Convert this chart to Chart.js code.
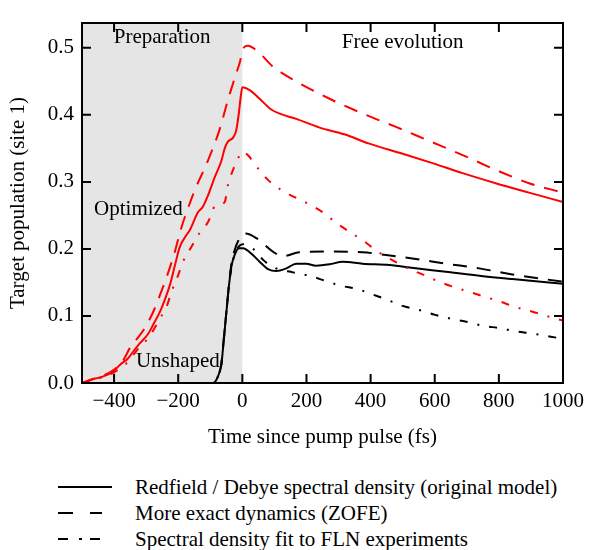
<!DOCTYPE html>
<html>
<head>
<meta charset="utf-8">
<script src="https://cdn.jsdelivr.net/npm/chart.js@4.4.1/dist/chart.umd.min.js"></script>
<style>
  body { margin: 0; background: #fff; }
  #wrap { position: relative; width: 590px; height: 550px; font-family: "Liberation Serif", "Times New Roman", serif; }
  #legend { position: absolute; left: 0; top: 474px; width: 590px; }
  .item { position: absolute; left: 0; height: 26px; width: 590px; }
  .item svg { position: absolute; left: 56px; top: 0; }
  .item span { position: absolute; left: 135px; top: 0; font-size: 21px; line-height: 26px; color: #000; white-space: nowrap; }
</style>
</head>
<body>
<div id="wrap">
  <canvas id="chart" width="590" height="460"></canvas>
  <div id="legend"></div>
</div>
<script>
// axis ticks
const xTicks = [-400, -200, 0, 200, 400, 600, 800, 1000];
const yTicks = [0, 0.1, 0.2, 0.3, 0.4, 0.5];

// shaded preparation window (fs)
const shadeFrom = -500;
const shadeTo = 0;

// Redfield / Debye, optimized pulse (red solid)
const redSolidT = [-500, -465, -439, -403, -382, -356, -340, -320, -294, -278, -257, -242, -226, -211, -195, -174, -164, -138, -123, -107, -86, -65, -55, -45, -29, -19, -11, -5, 0, 23, 54, 90, 121, 168, 241, 318, 396, 500, 593, 687, 790, 894, 1000];
const redSolidV = [0, 0.006, 0.009, 0.017, 0.027, 0.037, 0.047, 0.059, 0.073, 0.087, 0.106, 0.124, 0.146, 0.174, 0.203, 0.221, 0.228, 0.255, 0.263, 0.28, 0.307, 0.332, 0.35, 0.36, 0.366, 0.377, 0.402, 0.427, 0.441, 0.437, 0.424, 0.408, 0.401, 0.394, 0.381, 0.371, 0.357, 0.342, 0.328, 0.313, 0.298, 0.284, 0.27];

// ZOFE, optimized pulse (red dashed)
const redDashT = [-500, -465, -439, -403, -370, -351, -330, -299, -268, -257, -236, -211, -190, -170, -148, -107, -71, -45, -19, -8, 0, 8, 17, 49, 95, 132, 178, 272, 375, 479, 583, 687, 790, 894, 1000];
const redDashV = [0, 0.006, 0.01, 0.019, 0.035, 0.052, 0.065, 0.086, 0.117, 0.131, 0.158, 0.195, 0.232, 0.26, 0.288, 0.332, 0.378, 0.422, 0.462, 0.478, 0.495, 0.502, 0.503, 0.494, 0.472, 0.46, 0.447, 0.424, 0.402, 0.382, 0.361, 0.34, 0.318, 0.298, 0.284];

// FLN fit, optimized pulse (red dash-dot)
const redDotT = [-500, -440, -400, -360, -330, -289, -257, -236, -221, -200, -185, -159, -133, -107, -86, -55, -45, -29, -8, 0, 17, 44, 80, 121, 168, 215, 256, 292, 339, 381, 422, 469, 516, 562, 609, 655, 707, 754, 801, 853, 900, 956, 1000];
const redDotV = [0, 0.008, 0.016, 0.03, 0.048, 0.07, 0.096, 0.114, 0.136, 0.161, 0.181, 0.203, 0.224, 0.24, 0.263, 0.27, 0.295, 0.318, 0.34, 0.345, 0.34, 0.323, 0.303, 0.288, 0.276, 0.265, 0.253, 0.239, 0.224, 0.211, 0.196, 0.183, 0.171, 0.162, 0.152, 0.144, 0.136, 0.129, 0.122, 0.113, 0.107, 0.099, 0.093];

// Redfield / Debye, unshaped pulse (black solid)
const blkSolidT = [-500, -91, -76, -65, -58, -50, -42, -34, -24, -11, 2, 28, 54, 80, 106, 137, 168, 199, 230, 272, 313, 375, 458, 541, 635, 739, 842, 1000];
const blkSolidV = [0, 0, 0.01, 0.029, 0.064, 0.104, 0.144, 0.174, 0.191, 0.201, 0.201, 0.193, 0.181, 0.17, 0.167, 0.171, 0.178, 0.178, 0.175, 0.177, 0.181, 0.178, 0.176, 0.171, 0.166, 0.16, 0.155, 0.148];

// ZOFE, unshaped pulse (black dashed)
const blkDashT = [-500, -91, -76, -65, -58, -50, -42, -34, -24, -12, 0, 10, 44, 95, 126, 178, 272, 375, 448, 541, 635, 739, 842, 1000];
const blkDashV = [0, 0, 0.01, 0.03, 0.065, 0.105, 0.145, 0.178, 0.198, 0.213, 0.221, 0.223, 0.216, 0.196, 0.189, 0.195, 0.196, 0.195, 0.191, 0.185, 0.178, 0.171, 0.162, 0.151];

// FLN fit, unshaped pulse (black dash-dot)
const blkDotT = [-500, -91, -76, -65, -58, -50, -42, -34, -21, -8, 2, 23, 44, 64, 100, 158, 209, 261, 308, 360, 406, 453, 500, 552, 599, 650, 702, 754, 801, 853, 900, 962, 1000];
const blkDotV = [0, 0, 0.01, 0.029, 0.064, 0.104, 0.144, 0.172, 0.196, 0.205, 0.207, 0.203, 0.196, 0.184, 0.172, 0.165, 0.16, 0.152, 0.145, 0.14, 0.132, 0.124, 0.115, 0.109, 0.102, 0.096, 0.091, 0.085, 0.082, 0.077, 0.074, 0.069, 0.066];

const legendLabels = [
  'Redfield / Debye spectral density (original model)',
  'More exact dynamics (ZOFE)',
  'Spectral density fit to FLN experiments'
];

const SERIF = '"Liberation Serif", "Times New Roman", serif';
const FONT_SIZE = 21;
const DASH = [14, 10];
const DASHDOT = [8, 10, 2, 10];

function pts(ts, vs) {
  return ts.map((t, i) => ({ x: t, y: vs[i] }));
}

function line(ts, vs, color, dash) {
  return {
    data: pts(ts, vs),
    borderColor: color,
    borderWidth: 2,
    borderDash: dash,
    pointRadius: 0,
    fill: false,
    cubicInterpolationMode: 'monotone'
  };
}

// shading, text notes, inward ticks and the frame
const decor = {
  id: 'decor',
  beforeDatasetsDraw(chart) {
    const { ctx, chartArea: a, scales: { x } } = chart;
    const x0 = x.getPixelForValue(shadeFrom);
    const x1 = x.getPixelForValue(shadeTo);
    ctx.save();
    ctx.fillStyle = '#e5e5e5';
    ctx.fillRect(x0, a.top, x1 - x0, a.bottom - a.top);
    ctx.restore();
  },
  afterDatasetsDraw(chart) {
    const { ctx, chartArea: a, scales: { x, y } } = chart;
    ctx.save();
    ctx.fillStyle = '#000';
    ctx.font = FONT_SIZE + 'px ' + SERIF;
    ctx.textAlign = 'center';
    ctx.textBaseline = 'alphabetic';
    ctx.fillText('Preparation', x.getPixelForValue(-250), y.getPixelForValue(0.507));
    ctx.fillText('Free evolution', x.getPixelForValue(500), y.getPixelForValue(0.499));
    ctx.fillText('Optimized', x.getPixelForValue(-324), y.getPixelForValue(0.25));
    ctx.fillText('Unshaped', x.getPixelForValue(-201), y.getPixelForValue(0.024));

    ctx.strokeStyle = '#000';
    ctx.lineWidth = 2;
    ctx.beginPath();
    xTicks.forEach(v => {
      const px = x.getPixelForValue(v);
      ctx.moveTo(px, a.bottom); ctx.lineTo(px, a.bottom - 9);
      ctx.moveTo(px, a.top); ctx.lineTo(px, a.top + 9);
    });
    yTicks.forEach(v => {
      const py = y.getPixelForValue(v);
      ctx.moveTo(a.left, py); ctx.lineTo(a.left + 9, py);
      ctx.moveTo(a.right, py); ctx.lineTo(a.right - 9, py);
    });
    ctx.stroke();
    ctx.strokeRect(a.left, a.top, a.right - a.left, a.bottom - a.top);
    ctx.restore();
  }
};

new Chart(document.getElementById('chart'), {
  type: 'line',
  data: {
    datasets: [
      line(redSolidT, redSolidV, '#ff0000', []),
      line(redDashT, redDashV, '#ff0000', DASH),
      line(redDotT, redDotV, '#ff0000', DASHDOT),
      line(blkSolidT, blkSolidV, '#000000', []),
      line(blkDashT, blkDashV, '#000000', DASH),
      line(blkDotT, blkDotV, '#000000', DASHDOT)
    ]
  },
  options: {
    responsive: false,
    devicePixelRatio: 1,
    animation: false,
    layout: { padding: { left: 0, right: 27, top: 23, bottom: 0 } },
    plugins: { legend: { display: false }, tooltip: { enabled: false } },
    scales: {
      x: {
        type: 'linear',
        min: -500,
        max: 1000,
        grid: { display: false, drawTicks: false },
        border: { display: false },
        afterBuildTicks: s => { s.ticks = xTicks.map(v => ({ value: v })); },
        afterFit: s => { s.height = 77; },
        ticks: {
          color: '#000',
          padding: 6,
          maxRotation: 0,
          font: { family: SERIF, size: FONT_SIZE },
          callback: v => v < 0 ? '\u2212' + Math.abs(v) : String(v)
        },
        title: {
          display: true,
          text: 'Time since pump pulse (fs)',
          color: '#000',
          font: { family: SERIF, size: FONT_SIZE },
          padding: { top: 0, bottom: 10 }
        }
      },
      y: {
        type: 'linear',
        min: 0,
        max: 0.537,
        grid: { display: false, drawTicks: false },
        border: { display: false },
        afterBuildTicks: s => { s.ticks = yTicks.map(v => ({ value: v })); },
        afterFit: s => { s.width = 82; },
        ticks: {
          color: '#000',
          padding: 8,
          font: { family: SERIF, size: FONT_SIZE },
          callback: v => v.toFixed(1)
        },
        title: {
          display: true,
          text: 'Target population (site 1)',
          color: '#000',
          font: { family: SERIF, size: FONT_SIZE },
          padding: { top: 6, bottom: 0 }
        }
      }
    }
  },
  plugins: [decor]
});

// legend below the axes, black samples of the three line styles
const samples = [
  '<line x1="2" y1="13" x2="56" y2="13" stroke="#000" stroke-width="2"/>',
  '<line x1="2" y1="13" x2="17" y2="13" stroke="#000" stroke-width="2"/><line x1="34" y1="13" x2="46" y2="13" stroke="#000" stroke-width="2"/>',
  '<line x1="2" y1="13" x2="12" y2="13" stroke="#000" stroke-width="2"/><line x1="23" y1="13" x2="26" y2="13" stroke="#000" stroke-width="2"/><line x1="34" y1="13" x2="44" y2="13" stroke="#000" stroke-width="2"/>'
];
const legend = document.getElementById('legend');
legendLabels.forEach((txt, i) => {
  const row = document.createElement('div');
  row.className = 'item';
  row.style.top = (i * 26) + 'px';
  row.innerHTML = '<svg width="60" height="26">' + samples[i] + '</svg><span></span>';
  row.querySelector('span').textContent = txt;
  legend.appendChild(row);
});
</script>
</body>
</html>
